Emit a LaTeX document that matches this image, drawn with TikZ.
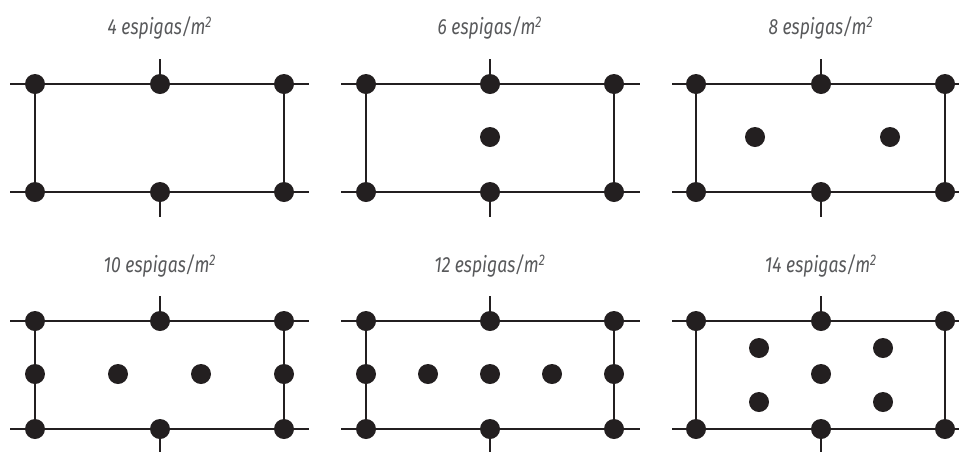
\documentclass[tikz,border=0pt]{standalone}
\usepackage{fontspec}
\usepackage{tikz}
\newfontfamily\titulofont[FakeStretch=0.8]{Fira Sans}
\definecolor{tinta}{RGB}{35,31,32}
\definecolor{cinza}{RGB}{88,89,91}
\tikzset{
  espiga/.style={circle,fill=tinta,draw=none,minimum size=0.4cm,inner sep=0pt},
  linha/.style={draw=tinta,line width=1.5pt},
  titulo/.style={text=cinza,font=\titulofont\itshape\fontsize{12.5}{14}\selectfont,inner sep=0pt}
}

\begin{document}
\begin{tikzpicture}[x=0.02cm,y=-0.02cm]
\useasboundingbox (0,0) rectangle (959,451);
% 4 espigas
\begin{scope}[shift={(35,84)}]
\node[titulo] (ta) at (125,-56) {4 espigas/m\textsuperscript{2}};
\coordinate (aW1) at (-25,0);
\coordinate (aE1) at (274,0);
\coordinate (aW2) at (-25,108);
\coordinate (aE2) at (274,108);
\coordinate (aN) at (125,-25);
\coordinate (aS) at (125,133);
\draw[linha] (aW1) -- (aE1);
\draw[linha] (aW2) -- (aE2);
\draw[linha] (0,0) -- (0,108);
\draw[linha] (249,0) -- (249,108);
\node[espiga] (a1) at (0,0) {};
\node[espiga] (a2) at (125,0) {};
\node[espiga] (a3) at (249,0) {};
\node[espiga] (a4) at (0,108) {};
\node[espiga] (a5) at (125,108) {};
\node[espiga] (a6) at (249,108) {};
\draw[linha] (a2) -- (aN);
\draw[linha] (a5) -- (aS);
\end{scope}
% 6 espigas
\begin{scope}[shift={(366,84)}]
\node[titulo] (tb) at (124,-56) {6 espigas/m\textsuperscript{2}};
\coordinate (bW1) at (-25,0);
\coordinate (bE1) at (274,0);
\coordinate (bW2) at (-25,108);
\coordinate (bE2) at (274,108);
\coordinate (bN) at (124,-25);
\coordinate (bS) at (124,133);
\draw[linha] (bW1) -- (bE1);
\draw[linha] (bW2) -- (bE2);
\draw[linha] (0,0) -- (0,108);
\draw[linha] (248,0) -- (248,108);
\node[espiga] (b1) at (0,0) {};
\node[espiga] (b2) at (124,0) {};
\node[espiga] (b3) at (248,0) {};
\node[espiga] (b4) at (0,108) {};
\node[espiga] (b5) at (124,108) {};
\node[espiga] (b6) at (248,108) {};
\node[espiga] (b7) at (124,53) {};
\draw[linha] (b2) -- (bN);
\draw[linha] (b5) -- (bS);
\end{scope}
% 8 espigas
\begin{scope}[shift={(696,84)}]
\node[titulo] (tc) at (125,-56) {8 espigas/m\textsuperscript{2}};
\coordinate (cW1) at (-24,0);
\coordinate (cE1) at (274,0);
\coordinate (cW2) at (-24,108);
\coordinate (cE2) at (274,108);
\coordinate (cN) at (125,-25);
\coordinate (cS) at (125,133);
\draw[linha] (cW1) -- (cE1);
\draw[linha] (cW2) -- (cE2);
\draw[linha] (0,0) -- (0,108);
\draw[linha] (249,0) -- (249,108);
\node[espiga] (c1) at (0,0) {};
\node[espiga] (c2) at (125,0) {};
\node[espiga] (c3) at (249,0) {};
\node[espiga] (c4) at (0,108) {};
\node[espiga] (c5) at (125,108) {};
\node[espiga] (c6) at (249,108) {};
\node[espiga] (c7) at (59,53) {};
\node[espiga] (c8) at (194,53) {};
\draw[linha] (c2) -- (cN);
\draw[linha] (c5) -- (cS);
\end{scope}
% 10 espigas
\begin{scope}[shift={(35,321)}]
\node[titulo] (td) at (125,-55) {10 espigas/m\textsuperscript{2}};
\coordinate (dW1) at (-25,0);
\coordinate (dE1) at (274,0);
\coordinate (dW2) at (-25,108);
\coordinate (dE2) at (274,108);
\coordinate (dN) at (125,-25);
\coordinate (dS) at (125,133);
\draw[linha] (dW1) -- (dE1);
\draw[linha] (dW2) -- (dE2);
\draw[linha] (0,0) -- (0,108);
\draw[linha] (249,0) -- (249,108);
\node[espiga] (d1) at (0,0) {};
\node[espiga] (d2) at (125,0) {};
\node[espiga] (d3) at (249,0) {};
\node[espiga] (d4) at (0,108) {};
\node[espiga] (d5) at (125,108) {};
\node[espiga] (d6) at (249,108) {};
\node[espiga] (d7) at (0,53) {};
\node[espiga] (d8) at (83,53) {};
\node[espiga] (d9) at (166,53) {};
\node[espiga] (d10) at (249,53) {};
\draw[linha] (d2) -- (dN);
\draw[linha] (d5) -- (dS);
\end{scope}
% 12 espigas
\begin{scope}[shift={(366,321)}]
\node[titulo] (te) at (124,-55) {12 espigas/m\textsuperscript{2}};
\coordinate (eW1) at (-25,0);
\coordinate (eE1) at (274,0);
\coordinate (eW2) at (-25,108);
\coordinate (eE2) at (274,108);
\coordinate (eN) at (124,-25);
\coordinate (eS) at (124,133);
\draw[linha] (eW1) -- (eE1);
\draw[linha] (eW2) -- (eE2);
\draw[linha] (0,0) -- (0,108);
\draw[linha] (248,0) -- (248,108);
\node[espiga] (e1) at (0,0) {};
\node[espiga] (e2) at (124,0) {};
\node[espiga] (e3) at (248,0) {};
\node[espiga] (e4) at (0,108) {};
\node[espiga] (e5) at (124,108) {};
\node[espiga] (e6) at (248,108) {};
\node[espiga] (e7) at (0,53) {};
\node[espiga] (e8) at (62,53) {};
\node[espiga] (e9) at (124,53) {};
\node[espiga] (e10) at (186,53) {};
\node[espiga] (e11) at (248,53) {};
\draw[linha] (e2) -- (eN);
\draw[linha] (e5) -- (eS);
\end{scope}
% 14 espigas
\begin{scope}[shift={(696,321)}]
\node[titulo] (tf) at (125,-55) {14 espigas/m\textsuperscript{2}};
\coordinate (fW1) at (-24,0);
\coordinate (fE1) at (274,0);
\coordinate (fW2) at (-24,108);
\coordinate (fE2) at (274,108);
\coordinate (fN) at (125,-25);
\coordinate (fS) at (125,133);
\draw[linha] (fW1) -- (fE1);
\draw[linha] (fW2) -- (fE2);
\draw[linha] (0,0) -- (0,108);
\draw[linha] (249,0) -- (249,108);
\node[espiga] (f1) at (0,0) {};
\node[espiga] (f2) at (125,0) {};
\node[espiga] (f3) at (249,0) {};
\node[espiga] (f4) at (0,108) {};
\node[espiga] (f5) at (125,108) {};
\node[espiga] (f6) at (249,108) {};
\node[espiga] (f7) at (63,27) {};
\node[espiga] (f8) at (187,27) {};
\node[espiga] (f9) at (125,53) {};
\node[espiga] (f10) at (63,81) {};
\node[espiga] (f11) at (187,81) {};
\draw[linha] (f2) -- (fN);
\draw[linha] (f5) -- (fS);
\end{scope}
\end{tikzpicture}
\end{document}
